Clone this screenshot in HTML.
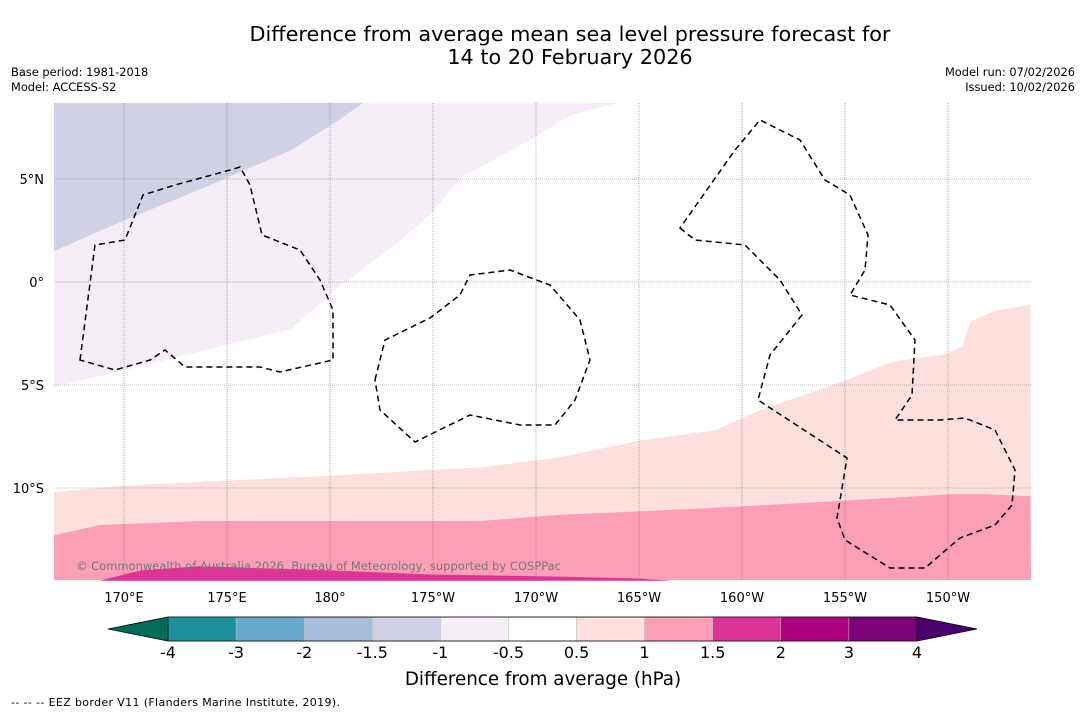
<!DOCTYPE html>
<html><head><meta charset="utf-8"><style>
body{margin:0;background:#fff;font-family:"Liberation Sans","DejaVu Sans",sans-serif}
</style></head><body>
<svg width="1085" height="713" viewBox="0 0 1085 713" xmlns="http://www.w3.org/2000/svg" font-family="DejaVu Sans, Liberation Sans, sans-serif">
<rect width="1085" height="713" fill="#fff"/>
<text x="570" y="41" font-size="20.8" text-anchor="middle">Difference from average mean sea level pressure forecast for</text>
<text x="570" y="64" font-size="20.8" text-anchor="middle">14 to 20 February 2026</text>
<text x="11" y="76" font-size="11.4">Base period: 1981-2018</text>
<text x="11" y="91" font-size="11.4">Model: ACCESS-S2</text>
<text x="1075" y="76" font-size="11.4" text-anchor="end">Model run: 07/02/2026</text>
<text x="1075" y="91" font-size="11.4" text-anchor="end">Issued: 10/02/2026</text>
<g id="map"></g>
<g id="eez" fill="none" stroke="#000" stroke-width="1.5" stroke-dasharray="6,4">
<path d="M80,360 L95,245 L125,240 L143,195 L175,185 L230,170 L240,167 L250,185 L262,235 L300,250 L320,280 L333,310 L333,360 L280,372 L260,367 L185,367 L165,350 L150,360 L115,370 Z"/>
<path d="M375,380 L385,340 L430,318 L460,295 L470,275 L510,270 L550,285 L580,320 L590,360 L575,400 L555,425 L520,425 L470,415 L415,442 L380,410 Z"/>
<path d="M680,228 L695,240 L745,245 L780,280 L802,315 L770,355 L758,400 L847,458 L837,518 L845,540 L890,568 L925,568 L960,538 L995,525 L1012,505 L1015,470 L995,430 L965,418 L940,420 L915,420 L895,420 L912,395 L915,340 L890,305 L850,295 L865,270 L868,235 L850,195 L825,180 L800,140 L760,120 L735,150 Z"/>
</g>
<text x="76" y="570" font-size="11.4" fill="#777" textLength="485">© Commonwealth of Australia 2026, Bureau of Meteorology, supported by COSPPac</text>
<g id="cbar"></g>
<text x="543" y="685" font-size="18.3" text-anchor="middle">Difference from average (hPa)</text>
<text x="11" y="706" font-size="11" textLength="329">--  --  -- EEZ border V11 (Flanders Marine Institute, 2019).</text>
</svg>
<script>
const lonTicks=[170,175,180,185,190,195,200,205,210];
const lonLabels=["170°E","175°E","180°","175°W","170°W","165°W","160°W","155°W","150°W"];
const latTicks=[5,0,-5,-10];
const latLabels=["5°N","0°","5°S","10°S"];
const cbLevels=["-4","-3","-2","-1.5","-1","-0.5","0.5","1","1.5","2","3","4"];
const cbColors=["#1b9099","#67a9cf","#a6bddb","#d0d1e6","#f5eef6","#ffffff","#fde0dd","#fa9fb5","#dd3497","#ae017e","#7a0177"];
// contour boundaries [lon(east), lat]
const blueEdge=[[166.6,1.5],[169.8,2.9],[173.7,4.5],[178.1,6.4],[180.5,7.9],[181.6,8.7]];
const lavEdge=[[166.6,-5.1],[178.1,-2.3],[180,-0.6],[183.4,2.0],[184.9,3.3],[186.3,5.0],[189.7,6.9],[191.7,8.1],[194,8.7]];
const pink1Edge=[[166.6,-10.2],[169.8,-9.9],[180,-9.4],[187.3,-9.0],[191.2,-8.5],[195,-7.7],[198.7,-7.2],[200.9,-6.2],[205,-4.8],[207.2,-3.9],[209.9,-3.5],[210.7,-3.1],[211.1,-1.9],[212.3,-1.4],[214,-1.1]];
const pink2Edge=[[166.6,-12.3],[168.8,-11.8],[173.7,-11.6],[187.3,-11.6],[191.2,-11.3],[198,-11.0],[205.2,-10.6],[210.1,-10.3],[211.8,-10.3],[214,-10.4]];
const magEdge=[[168.8,-14.5],[170.8,-14.0],[173.7,-13.8],[180,-14.0],[184.9,-14.2],[191.2,-14.3],[195,-14.4],[196.7,-14.5]];

const NS="http://www.w3.org/2000/svg";
const X0=54,X1=1031,Y0=103,Y1=580;
const xs=lon=>124+(lon-170)*20.6;
const ys=lat=>282-lat*20.6;
function mk(t,a,p){const e=document.createElementNS(NS,t);for(const k in a)e.setAttribute(k,a[k]);p.appendChild(e);return e;}
const map=document.getElementById('map');
const pts=arr=>arr.map(p=>xs(p[0]).toFixed(1)+','+ys(p[1]).toFixed(1)).join(' ');
let e;
e=mk('polygon',{points:pts(lavEdge)+` ${X0},${Y0}`,fill:'#f5eef6'},map);


e=mk('polygon',{points:pts(blueEdge)+` ${X0},${Y0}`,fill:'#d0d1e6'},map);


e=mk('polygon',{points:pts(pink1Edge)+` ${X1},${Y1} ${X0},${Y1}`,fill:'#fde0dd'},map);


e=mk('polygon',{points:pts(pink2Edge)+` ${X1},${Y1} ${X0},${Y1}`,fill:'#fa9fb5'},map);


e=mk('polygon',{points:pts(magEdge),fill:'#dd3497'},map);


lonTicks.forEach((l,i)=>{
  const x=xs(l);
  const g=mk('line',{x1:x,x2:x,y1:Y0,y2:Y1,stroke:'#777','stroke-width':0.6,'stroke-dasharray':'1,1'},map);
  
  
  const t=mk('text',{x:x,y:602,'font-size':13,'text-anchor':'middle'},map);t.textContent=lonLabels[i];
  
  
});
latTicks.forEach((l,i)=>{
  const y=ys(l);
  const g=mk('line',{x1:X0,x2:X1,y1:y,y2:y,stroke:'#777','stroke-width':0.6,'stroke-dasharray':'1,1'},map);
  
  
  const t=mk('text',{x:44,y:y+5,'font-size':13,'text-anchor':'end'},map);t.textContent=latLabels[i];
  
  
});
const cb=document.getElementById('cbar');
const cx0=168,cx1=917,cy0=617,cy1=641,w=(cx1-cx0)/cbColors.length;
e=mk('polygon',{points:`108,629 ${cx0},${cy0} ${cx0},${cy1}`,fill:'#016c59',stroke:'#000','stroke-width':0.8},cb);


e=mk('polygon',{points:`977,629 ${cx1},${cy0} ${cx1},${cy1}`,fill:'#49006a',stroke:'#000','stroke-width':0.8},cb);


cbColors.forEach((c,i)=>{
  const r=mk('rect',{x:cx0+i*w,y:cy0,width:w,height:cy1-cy0,fill:c,stroke:'#bbb','stroke-width':0.5},cb);
  
  
});
e=mk('rect',{x:cx0,y:cy0,width:cx1-cx0,height:cy1-cy0,fill:'none',stroke:'#000','stroke-width':0.8},cb);


cbLevels.forEach((l,i)=>{
  const t=mk('text',{x:cx0+i*w,y:658,'font-size':16,'text-anchor':'middle'},cb);t.textContent=l;
  
  
});
</script>
</body></html>
